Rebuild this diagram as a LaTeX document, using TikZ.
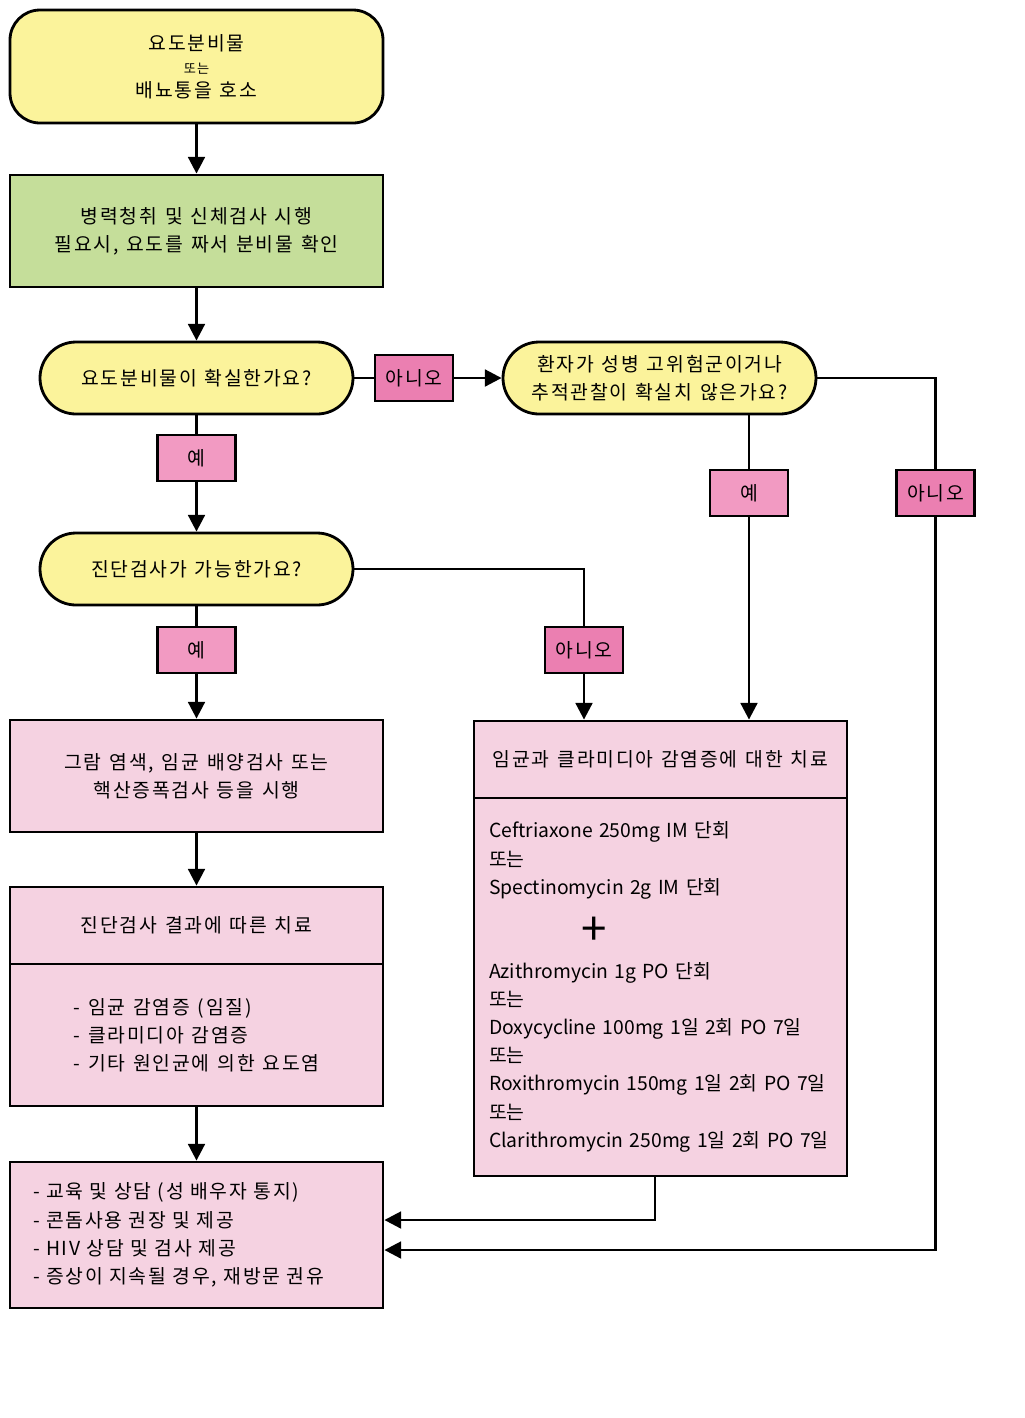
\documentclass[tikz,border=0pt]{standalone}
\usepackage{fontspec}
\setmainfont{Noto Sans CJK KR}
\newfontfamily\krwide[LetterSpace=9,WordSpace=1.3]{Noto Sans CJK KR}
\usetikzlibrary{arrows.meta}

\definecolor{askyellow}{HTML}{FBF39B}
\definecolor{checkgreen}{HTML}{C5DE9A}
\definecolor{workpink}{HTML}{F5D2E1}
\definecolor{yespink}{HTML}{F29AC2}
\definecolor{nopink}{HTML}{EB7FB1}

\begin{document}
\begin{tikzpicture}[scale=1.0,
    every node/.style={font=\krwide\fontsize{11}{16}\selectfont},
    startbox/.style={draw=black, line width=1.6pt, fill=askyellow, rounded corners=0.6cm,
        minimum width=7.46cm, minimum height=2.26cm, align=center},
    question/.style={draw=black, line width=1.6pt, fill=askyellow, rounded corners=0.72cm,
        minimum width=6.26cm, minimum height=1.44cm, align=center},
    workbox/.style={draw=black, line width=1.6pt, fill=workpink, minimum width=7.46cm, align=center},
    yesbox/.style={draw=black, line width=1.6pt, fill=yespink, minimum width=1.56cm, minimum height=0.92cm},
    nobox/.style={draw=black, line width=1.6pt, fill=nopink, minimum width=1.56cm, minimum height=0.92cm},
    link/.style={line width=1.6pt},
    flow/.style={line width=1.6pt, -{Triangle[length=9.5pt,width=9.5pt]}}]

        \useasboundingbox (0,0) rectangle (20.48,-28.36);

        \node[startbox, font=\krwide\fontsize{11}{13.3}\selectfont] (A) at (3.93,-1.33)
            {요도분비물\\{\fontsize{7.5}{9}\selectfont 또는}\\배뇨통을 호소};
        \node[workbox, fill=checkgreen, minimum height=2.24cm] (B) at (3.93,-4.62)
            {병력청취 및 신체검사 시행\\필요시, 요도를 짜서 분비물 확인};
        \node[question] (C) at (3.93,-7.56) {요도분비물이 확실한가요?};
        \node[nobox] (N1) at (8.28,-7.56) {아니오};
        \node[question] (D) at (13.19,-7.56) {환자가 성병 고위험군이거나\\추적관찰이 확실치 않은가요?};
        \node[yesbox] (Y1) at (3.93,-9.16) {예};
        \node[yesbox] (Y3) at (14.98,-9.86) {예};
        \node[nobox] (N3) at (18.71,-9.86) {아니오};
        \node[question] (E) at (3.93,-11.38) {진단검사가 가능한가요?};
        \node[yesbox] (Y2) at (3.93,-13.0) {예};
        \node[nobox] (N2) at (11.68,-13.0) {아니오};

        % left column
        \node[workbox, minimum height=2.24cm] (F) at (3.93,-15.52)
            {그람 염색, 임균 배양검사 또는\\핵산증폭검사 등을 시행};
        \node[workbox, minimum height=1.54cm] (Ghead) at (3.93,-18.51) {진단검사 결과에 따른 치료};
        \node[workbox, minimum height=2.84cm, align=left] (Gbody) at (3.93,-20.70)
            {- 임균 감염증 (임질)\\- 클라미디아 감염증\\- 기타 원인균에 의한 요도염};
        \node[workbox, minimum height=2.92cm, text width=6.54cm, inner xsep=0.46cm, align=left] (I) at (3.93,-24.7)
            {- 교육 및 상담 (성 배우자 통지)\\- 콘돔사용 권장 및 제공\\- HIV 상담 및 검사 제공\\- 증상이 지속될 경우, 재방문 권유};

        % right column
        \node[workbox, minimum height=1.54cm] (Hhead) at (13.21,-15.19) {임균과 클라미디아 감염증에 대한 치료};
        \node[workbox, minimum height=7.56cm, text width=6.86cm, inner xsep=0.3cm, align=left,
            font=\rmfamily\fontsize{11}{16}\selectfont] (Hbody) at (13.21,-19.74)
            {Ceftriaxone 250mg IM 단회\\또는\\Spectinomycin 2g IM 단회\\[32pt]Azithromycin 1g PO 단회\\또는\\Doxycycline 100mg 1일 2회 PO 7일\\또는\\Roxithromycin 150mg 1일 2회 PO 7일\\또는\\Clarithromycin 250mg 1일 2회 PO 7일};
        \node[font=\rmfamily\fontsize{26}{26}\selectfont] (plus) at (11.88,-18.62) {+};

        \path [flow] (A.south) edge (B.north);
        \path [flow] (B.south) edge (C.north);

        \path [link] (C.east) edge (N1.west);
        \path [flow] (N1.east) edge (D.west);
        \path [link] (C.south) edge (Y1.north);
        \path [flow] (Y1.south) edge (E.north);

        \path [link] (E.south) edge (Y2.north);
        \path [flow] (Y2.south) edge (F.north);
        \draw [link] (E.east) -| (N2.north);
        \path [flow] (N2.south) edge (N2.south |- Hhead.north);

        \path [link] (Y3.north |- D.south) edge (Y3.north);
        \path [flow] (Y3.south) edge (Y3.south |- Hhead.north);
        \draw [link] (D.east) -| (N3.north);

        \path [flow] (F.south) edge (Ghead.north);
        \path [flow] (Gbody.south) edge (I.north);
        \draw [flow] ([xshift=-0.11cm]Hbody.south) |- ([yshift=0.3cm]I.east);
        \draw [flow] (N3.south) |- ([yshift=-0.3cm]I.east);
    \end{tikzpicture}
\end{document}
